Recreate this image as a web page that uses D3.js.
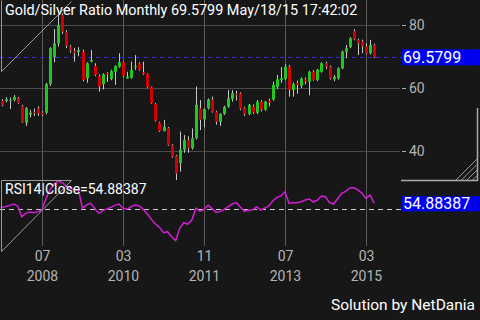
<!DOCTYPE html>
<html><head><meta charset="utf-8">
<script src="https://cdn.jsdelivr.net/npm/d3@7"></script>
<style>html,body{margin:0;padding:0;background:#171717;overflow:hidden}svg{display:block}</style>
</head><body><svg id="c" width="480" height="320"></svg>
<script>
const startMonth = "2007-09";
const opens  = [55.8,55.7,56.0,56.0,56.6,54.1,48.8,51.4,52.2,53.4,52.0,52.0,61.1,69.6,74.0,83.0,77.7,73.0,71.5,71.2,71.4,62.9,68.2,66.8,63.7,61.1,64.6,62.7,65.0,66.6,68.0,62.9,63.1,66.4,67.7,64.8,64.3,60.1,54.8,48.8,46.2,47.1,41.7,38.3,36.0,40.2,43.3,40.7,43.9,53.4,49.9,53.4,56.2,52.3,49.1,51.6,53.9,56.3,58.0,58.1,53.6,51.6,54.0,52.0,55.5,53.0,55.8,56.2,60.2,62.3,62.7,66.6,59.2,61.3,60.6,62.6,61.8,65.0,62.4,65.0,67.7,66.6,62.6,62.9,66.1,71.2,72.8,78.0,75.1,74.6,73.0,70.9,73.5];
const highs  = [56.3,56.9,56.8,57.6,57.0,54.5,53.8,52.9,53.3,54.0,52.5,61.5,72.8,78.5,83.0,83.5,78.2,73.5,72.5,72.8,72.0,68.0,71.9,67.7,64.2,64.5,64.9,65.6,67.0,70.9,68.2,65.0,68.2,70.3,68.0,68.2,64.5,60.3,55.1,49.1,49.7,47.5,42.0,38.6,46.0,44.9,44.5,47.0,60.3,56.0,53.4,56.5,57.1,52.6,51.8,54.2,59.2,59.2,59.0,58.5,53.9,54.8,54.6,56.0,56.0,55.8,56.5,61.8,64.0,66.5,67.4,67.1,61.6,62.2,63.2,63.2,65.3,65.5,65.9,68.0,68.2,67.0,64.0,66.4,71.7,73.5,76.0,78.5,75.5,75.2,74.0,75.1,73.9];
const lows   = [54.0,55.3,53.2,55.6,54.8,48.8,47.8,50.5,50.9,51.0,50.9,51.5,60.5,68.0,73.0,77.0,72.5,71.0,68.2,69.9,62.0,61.5,68.0,63.6,58.7,59.4,61.8,62.3,60.8,66.3,63.3,62.8,62.8,65.6,65.3,64.0,59.8,54.8,49.2,45.9,46.0,41.5,37.7,30.6,33.3,39.3,39.3,40.3,43.5,46.5,47.4,53.0,52.0,48.2,47.8,51.3,53.6,55.5,55.9,52.8,51.0,51.2,51.6,51.6,52.4,52.6,54.0,55.8,59.5,61.5,62.3,57.1,57.1,58.0,59.8,61.0,57.5,62.2,62.0,64.7,65.8,62.5,62.0,62.5,65.8,69.3,72.5,75.0,70.3,70.9,70.6,70.5,69.3];
const closes = [54.4,56.3,56.1,57.0,55.0,49.1,53.4,52.0,51.8,51.8,51.3,61.1,72.5,74.0,79.8,77.7,73.2,71.7,70.9,71.9,62.4,67.7,68.7,64.0,60.3,64.2,64.2,65.2,66.8,68.0,63.7,63.4,65.6,66.8,65.6,64.3,60.1,55.0,49.5,46.2,47.5,41.7,38.0,32.7,40.2,43.4,40.7,43.9,54.5,49.7,53.1,56.2,52.3,49.1,51.6,53.9,56.6,58.2,57.6,53.2,51.5,54.5,52.0,55.5,53.0,55.5,55.3,60.8,62.6,62.9,66.6,59.3,61.1,60.8,62.8,61.9,65.0,62.5,65.6,67.7,66.6,62.9,63.4,66.1,71.4,72.5,75.6,75.3,74.0,73.0,70.9,73.5,69.5799];
const rsi14  = [51.6,52.1,53.2,54.3,52.7,44.0,46.7,47.8,47.2,48.1,49.4,58.9,66.2,70.5,73.0,71.6,68.9,67.0,66.2,65.7,50.8,53.5,54.8,50.8,46.7,48.9,50.2,51.6,53.2,54.3,50.8,50.0,52.1,53.5,52.7,50.0,46.2,41.8,38.0,35.3,31.0,31.8,27.7,24.5,34.5,39.1,38.0,41.3,50.8,48.3,49.9,53.2,50.5,47.5,48.1,50.0,52.1,54.3,55.4,51.6,48.3,49.4,49.4,52.1,49.4,51.0,52.7,57.0,59.7,60.8,64.3,54.8,55.4,55.4,56.2,57.5,58.4,55.9,57.5,60.8,60.2,55.4,54.3,58.6,63.0,64.6,67.3,67.6,65.7,63.0,58.9,61.6,54.88387];
const priceTicks = [40, 60, 80];
const xTickMonths = ["2008-07","2010-03","2011-11","2013-07","2015-03"];
const xTickTop = ["07","03","11","07","03"];
const xTickBottom = ["2008","2010","2011","2013","2015"];
const lastClose = 69.5799;
const lastRsi = 54.88387;
const rsiMid = 50;
const titleText = "Gold/Silver Ratio Monthly 69.5799 May/18/15 17:42:02";
const rsiText = "RSI14|Close=54.88387";
const creditText = "Solution by NetDania";

const svg = d3.select("#c");
const FONT = "Roboto, 'Noto Sans', sans-serif";
const monthIndex = m => { const [y0,m0] = startMonth.split("-").map(Number); const [y,mm] = m.split("-").map(Number); return (y-y0)*12 + (mm-m0); };

const x = d3.scaleLinear().domain([0, closes.length-1]).range([1.5, 1.5 + 4.05*(closes.length-1)]);
const y = d3.scaleLinear().domain([40, 80]).range([150.5, 24.5]);
const yr = d3.scaleLinear().domain([20, 80]).range([246.2, 172.4]);
const plotRight = 400;

svg.append("rect").attr("width",480).attr("height",320).attr("fill","#171717");

// grid
const g = svg.append("g");
priceTicks.forEach(t => {
  const yy = Math.round(y(t))+0.5;
  g.append("line").attr("x1",0).attr("x2",plotRight).attr("y1",yy).attr("y2",yy).attr("stroke","#4a4a4a").attr("stroke-width",1);
  g.append("line").attr("x1",402).attr("x2",406).attr("y1",yy).attr("y2",yy).attr("stroke","#aaa");
  g.append("text").attr("x",409).attr("y",y(t)+5).attr("fill","#b4b4b4").attr("font-family",FONT).attr("font-size",14).text(t);
});
xTickMonths.forEach((m,k) => {
  const xi = Math.round(x(monthIndex(m)))+0.5;
  g.append("line").attr("x1",xi).attr("x2",xi).attr("y1",0).attr("y2",246).attr("stroke","#5a5a5a").attr("stroke-width",1);
  g.append("text").attr("x",xi).attr("y",261).attr("text-anchor","middle").attr("fill","#b4b4b4").attr("font-family",FONT).attr("font-size",14).text(xTickTop[k]);
  g.append("text").attr("x",xi).attr("y",281).attr("text-anchor","middle").attr("fill","#b4b4b4").attr("font-family",FONT).attr("font-size",14).text(xTickBottom[k]);
});

// last price dashed line
const ly = Math.round(y(lastClose))+0.5;
svg.append("line").attr("x1",0).attr("x2",402).attr("y1",ly).attr("y2",ly).attr("stroke","#2a2ae6").attr("stroke-width",1.2).attr("stroke-dasharray","4,4");

// candles
const cg = svg.append("g");
closes.forEach((c,i) => {
  const o = opens[i], h = highs[i], l = lows[i];
  const xc = Math.round(x(i));
  cg.append("line").attr("x1",xc+0.5).attr("x2",xc+0.5).attr("y1",y(h)).attr("y2",y(l)).attr("stroke","#c8c8c8").attr("stroke-width",1);
  const top = y(Math.max(o,c)), bot = y(Math.min(o,c));
  cg.append("rect").attr("x",xc-1).attr("y",top).attr("width",3).attr("height",Math.max(1,bot-top)).attr("fill", c>=o ? "#1ec81e" : "#d20000");
});

// RSI
const my = Math.round(yr(rsiMid))+0.5;
svg.append("line").attr("x1",0).attr("x2",402).attr("y1",my).attr("y2",my).attr("stroke","#cfcfcf").attr("stroke-width",1).attr("stroke-dasharray","5,4");
svg.append("path").datum(rsi14).attr("fill","none").attr("stroke","#d21ed2").attr("stroke-width",1.5)
  .attr("d", d3.line().x((d,i)=>x(i)).y(d=>yr(d)));

// handles
const hg = svg.append("g").attr("stroke","#9a9a9a").attr("stroke-width",1).attr("fill","none");
hg.append("path").attr("d","M1.5,0.5 L1.5,71.5 L71.5,1.5");
hg.append("path").attr("d","M71.5,180.5 L1.5,180.5 L1.5,251.5 L71.5,180.5");
hg.append("path").attr("d","M477.5,108 L477.5,180.5 L401,180.5").attr("stroke","#aaa").attr("stroke-width",1.5);
[0,5.5,11,16.5].forEach(d => hg.append("line").attr("x1",456+d).attr("y1",180).attr("x2",477).attr("y2",159+d));

// value labels
svg.append("rect").attr("x",402).attr("y",y(lastClose)-8).attr("width",77).attr("height",16).attr("fill","#0000f0");
svg.append("text").attr("x",403).attr("y",y(lastClose)+6).attr("fill","#fff").attr("font-family",FONT).attr("font-size",16).text(lastClose);
svg.append("rect").attr("x",402).attr("y",yr(lastRsi)-7).attr("width",77).attr("height",15).attr("fill","#0000f0");
svg.append("text").attr("x",403).attr("y",yr(lastRsi)+6).attr("fill","#fff").attr("font-family",FONT).attr("font-size",16).text(lastRsi);

// texts
svg.append("text").attr("x",5).attr("y",15).attr("fill","#fff").attr("font-family",FONT).attr("font-size",14.4).text(titleText);
svg.append("text").attr("x",5).attr("y",194).attr("fill","#fff").attr("font-family",FONT).attr("font-size",14).text(rsiText);
svg.append("text").attr("x",475).attr("y",310).attr("text-anchor","end").attr("fill","#fff").attr("font-family",FONT).attr("font-size",15.5).text(creditText);
</script></body></html>
